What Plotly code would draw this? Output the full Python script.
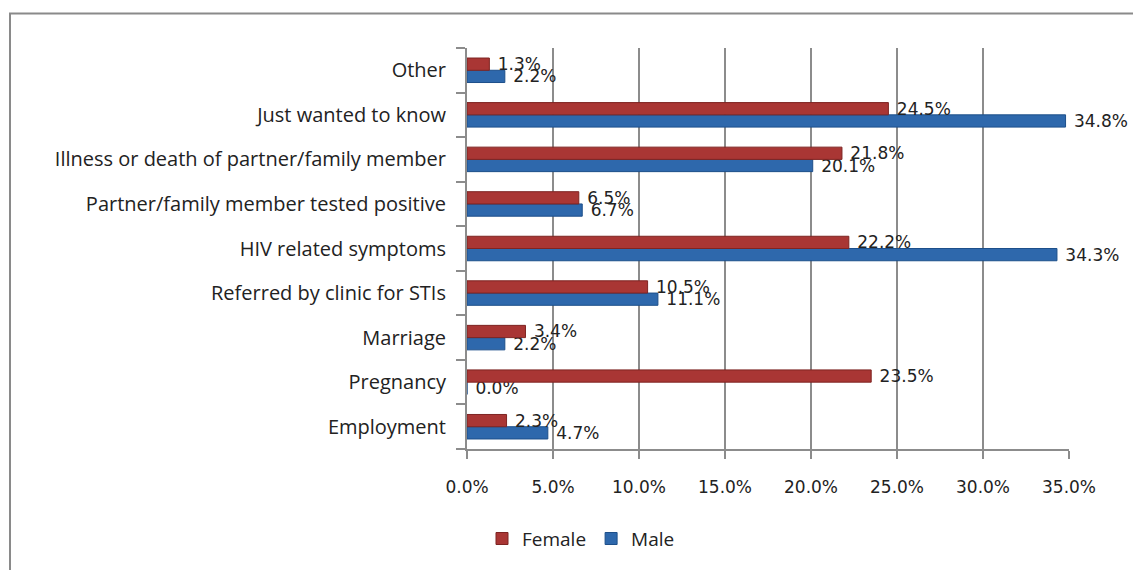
import plotly.graph_objects as go

# Reasons for HIV testing, by sex (percent of respondents)
categories = [
    "Other",
    "Just wanted to know",
    "Illness or death of partner/family member",
    "Partner/family member tested positive",
    "HIV related symptoms",
    "Referred by clinic for STIs",
    "Marriage",
    "Pregnancy",
    "Employment",
]
female = [1.3, 24.5, 21.8, 6.5, 22.2, 10.5, 3.4, 23.5, 2.3]
male = [2.2, 34.8, 20.1, 6.7, 34.3, 11.1, 2.2, 0.0, 4.7]
x_ticks = [0, 5, 10, 15, 20, 25, 30, 35]

RED = "#A93634"
BLUE = "#2E68AC"
TEXT = "#222222"
GRID = "#8C8C8C"

W, H = 1133, 570
ML, MR, MT, MB = 467, 64, 48, 115

label_font = dict(family="DejaVu Sans", size=17, color=TEXT)
NBSP = "\u00a0"

fig = go.Figure()
# Male first so Female sits above it in each group on the horizontal bars
fig.add_trace(go.Bar(
    y=categories, x=male, name="Male", orientation="h",
    marker=dict(color=BLUE, line=dict(color="#1D4F8A", width=1)),
    text=[f"{NBSP}{v:.1f}%" for v in male], textposition="outside",
    textfont=label_font, constraintext="none",
    cliponaxis=False, legendrank=2,
))
fig.add_trace(go.Bar(
    y=categories, x=female, name="Female", orientation="h",
    marker=dict(color=RED, line=dict(color="#7E2422", width=1)),
    text=[f"{NBSP}{v:.1f}%" for v in female], textposition="outside",
    textfont=label_font, constraintext="none",
    cliponaxis=False, legendrank=1,
))

# outer chart frame
px_to_x = lambda px: (px - ML) / (W - ML - MR)
px_to_y = lambda py: 1 - (py - MT) / (H - MT - MB)
fig.add_shape(type="rect", xref="paper", yref="paper",
              x0=px_to_x(10), x1=px_to_x(1160), y0=px_to_y(13), y1=px_to_y(600),
              line=dict(color="#8A8A8A", width=2), fillcolor="rgba(0,0,0,0)", layer="below")

fig.update_layout(
    width=W, height=H,
    margin=dict(l=ML, r=MR, t=MT, b=MB),
    paper_bgcolor="white", plot_bgcolor="white",
    barmode="group", bargap=0.45, bargroupgap=0.0,
    showlegend=True,
    legend=dict(orientation="h", x=px_to_x(581), xanchor="center",
                y=px_to_y(546), yanchor="middle",
                font=dict(family="Open Sans", size=19, color=TEXT),
                itemwidth=30, traceorder="normal"),
    xaxis=dict(
        range=[0, 35], tickvals=x_ticks,
        ticktext=[f"{v:.1f}%" for v in x_ticks],
        showgrid=True, gridcolor=GRID, gridwidth=2,
        showline=True, linecolor=GRID, linewidth=2,
        ticks="outside", ticklen=8, tickcolor=GRID, tickwidth=2,
        ticklabelstandoff=14,
        tickfont=dict(family="DejaVu Sans", size=17, color=TEXT),
        zeroline=False,
    ),
    yaxis=dict(
        categoryorder="array", categoryarray=categories[::-1],
        showline=True, linecolor=GRID, linewidth=2,
        ticks="outside", ticklen=9, tickcolor=GRID, tickwidth=2,
        tickson="boundaries", ticklabelstandoff=15,
        tickfont=dict(family="Open Sans", size=20, color=TEXT),
        showgrid=False,
    ),
)

fig.write_html("out.html")
